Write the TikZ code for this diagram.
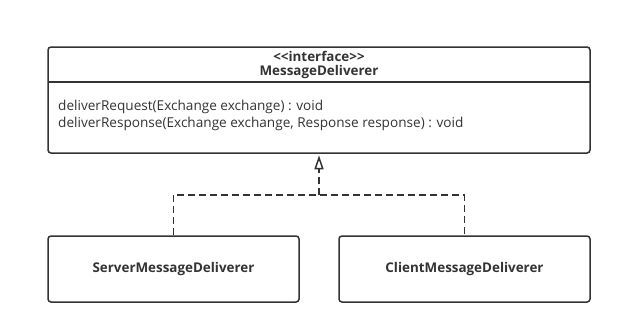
\documentclass[tikz,border=0pt]{standalone}
\usepackage{fontspec}
\setmainfont{Open Sans}
\usepackage{tikz}
\usetikzlibrary{arrows.meta, positioning, calc}

\begin{document}
\begin{tikzpicture}[
    x=1pt, y=-1pt,
    umlbox/.style={draw=black!80, line width=1.5pt, rounded corners=3pt, inner sep=0pt},
    txt/.style={font=\fontsize{13.6}{15}\selectfont, text=black!80, inner sep=0pt},
    bold/.style={txt, font=\fontsize{13.4}{15}\selectfont\bfseries},
    link/.style={draw=black!80, line width=1.5pt, dash pattern=on 7pt off 4pt},
    >=Stealth
]
\useasboundingbox (0,0) rectangle (622,335);

% Interface
\node[umlbox, minimum width=542pt, minimum height=106pt] (iface) at (319,100) {};
\draw[black!80, line width=1.5pt] (48,82) -- (590,82);
\node[bold] (stereo) at (319,56) {{<}{<}interface{>}{>}};
\node[bold] (iname) at (319,72) {MessageDeliverer};
\node[txt, anchor=west] (m1) at (58,107) {deliverRequest(Exchange exchange) : void};
\node[txt, anchor=west] (m2) at (58,124) {deliverResponse(Exchange exchange, Response response) : void};

% Implementations
\node[umlbox, minimum width=251pt, minimum height=66pt, bold] (server) at (173.5,269) {ServerMessageDeliverer};
\node[umlbox, minimum width=251pt, minimum height=66pt, bold] (client) at (464.5,269) {ClientMessageDeliverer};

% Realization
\coordinate (join) at (319,195);
\draw[link] (server.north) |- (join) -| (client.north);
\draw[link, -{Triangle[open, length=14pt, width=9pt, line width=1.5pt, sep=1.5pt]}] (join) -- (iface.south);

\end{tikzpicture}
\end{document}
